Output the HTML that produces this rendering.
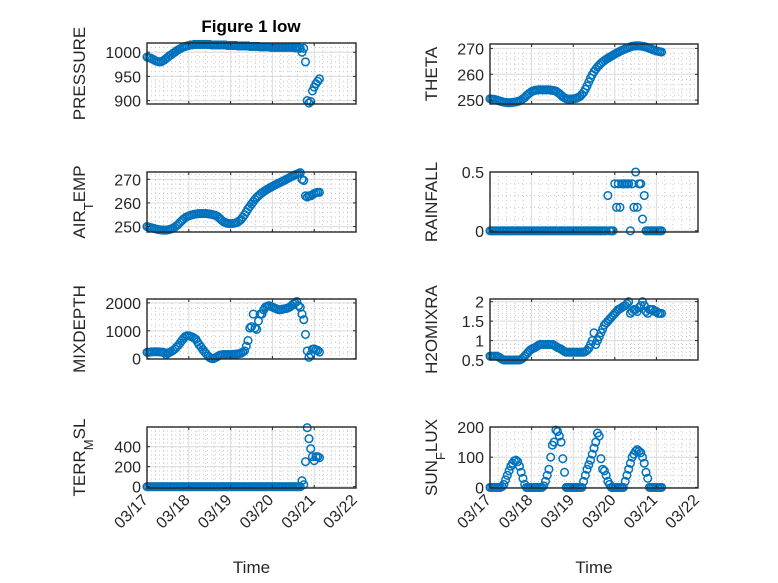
<!DOCTYPE html>
<html><head><meta charset="utf-8"><style>
html,body{margin:0;padding:0;background:#fff;}
svg{display:block;font-family:"Liberation Sans","DejaVu Sans",sans-serif;}
</style></head><body>
<svg id="fig" width="778" height="583" viewBox="0 0 778 583" xmlns="http://www.w3.org/2000/svg">
<rect width="778" height="583" fill="#fff"/>
<text x="251" y="32" text-anchor="middle" font-size="17" font-weight="bold" fill="#000">Figure 1 low</text>
</svg>
<script>
// hourly samples starting 03/17 00:00 (index = hour)
const xTickLabels = ["03/17","03/18","03/19","03/20","03/21","03/22"];
const pressure = [990,989,988,986,984,982,981,980,980,982,
984,987,990,993,995,998,1000,1003,1005,1007,
1009,1011,1012,1013,1014,1015,1015,1016,1016,1016,
1016,1016,1016,1016,1016,1016,1016,1015,1015,1015,
1015,1015,1015,1015,1015,1015,1014,1014,1014,1014,
1014,1014,1013,1013,1013,1013,1013,1013,1013,1012,
1012,1012,1012,1012,1012,1011,1011,1011,1011,1011,
1011,1010,1010,1010,1010,1010,1010,1010,1010,1010,
1010,1010,1010,1010,1010,1009,1009,1009,1008,1000,
1008,980,900,895,898,920,928,935,940,945];
const theta = [250.5,250.4,250.3,250.2,250,249.8,249.6,249.4,249.2,249.1,
249,249,249,249.1,249.2,249.3,249.5,249.7,250,250.5,
251,251.7,252.3,252.8,253.3,253.6,253.8,253.9,254,254,
254,254,254,254,254,253.9,253.8,253.7,253.5,253,
252.5,251.9,251.3,250.9,250.5,250.4,250.4,250.4,250.5,250.6,
250.8,251.1,251.5,252.2,253,254.2,255.5,257,258.5,259.8,
261,261.9,262.8,263.5,264.2,264.8,265.3,265.8,266.2,266.6,
267,267.4,267.8,268.2,268.5,268.9,269.2,269.5,269.8,270.1,
270.3,270.6,270.8,270.9,271,271,271,270.9,270.8,270.7,
270.5,270.3,270,269.8,269.5,269.3,269,268.9,268.7,268.6];
const airTemp = [250,249.8,249.6,249.4,249.2,249,248.8,248.7,248.6,248.5,
248.5,248.5,248.6,248.8,249,249.4,249.8,250.4,251,251.8,
252.5,253.2,253.8,254.2,254.5,254.8,255,255.2,255.3,255.4,
255.5,255.5,255.5,255.5,255.5,255.4,255.3,255.2,255,254.8,
254.5,254,253.3,252.6,252,251.7,251.4,251.3,251.3,251.3,
251.4,251.6,251.8,252.4,253,254,255,256.2,257.5,258.5,
259.5,260.5,261.5,262.3,263,263.7,264.3,264.8,265.3,265.8,
266.2,266.6,267,267.4,267.8,268.2,268.5,268.9,269.2,269.6,
270,270.4,270.8,271.2,271.5,271.9,272.2,272.5,272.8,270,
269.5,263,262.5,263,263,263.5,264,264.3,264.5,264.5];
const rainfall = [0,0,0,0,0,0,0,0,0,0,
0,0,0,0,0,0,0,0,0,0,
0,0,0,0,0,0,0,0,0,0,
0,0,0,0,0,0,0,0,0,0,
0,0,0,0,0,0,0,0,0,0,
0,0,0,0,0,0,0,0,0,0,
0,0,0,0,0,0,0,0,0.3,0,
0,0,0.4,0.2,0.4,0.2,0.4,0.4,0.4,0.4,
0.4,0,0.4,0.2,0.5,0.2,0.4,0.4,0.1,0.3,
0,0,0,0,0,0,0,0,0,0];
const mixDepth = [230,230,240,245,250,250,250,245,240,230,
220,150,200,230,260,300,350,420,480,560,
650,730,800,820,820,800,780,740,700,600,
500,420,330,250,180,100,40,10,0,30,
60,100,130,140,150,150,150,150,150,155,
160,165,170,185,200,240,280,450,650,1100,
1150,1600,1100,1050,1350,1600,1600,1750,1850,1880,
1900,1880,1850,1820,1800,1770,1750,1760,1780,1790,
1800,1820,1850,1900,1960,2000,2050,1900,1840,1600,
1400,870,280,50,150,340,350,320,300,240];
const h2oMixRatio = [0.6,0.6,0.6,0.6,0.6,0.58,0.55,0.52,0.5,0.5,
0.5,0.5,0.5,0.5,0.5,0.5,0.5,0.5,0.52,0.55,
0.6,0.65,0.7,0.75,0.78,0.8,0.82,0.85,0.88,0.9,
0.9,0.9,0.9,0.9,0.9,0.9,0.9,0.88,0.85,0.82,
0.8,0.78,0.75,0.72,0.7,0.7,0.7,0.7,0.7,0.7,
0.7,0.7,0.7,0.7,0.7,0.72,0.75,0.8,0.9,1.0,
1.2,0.9,1.0,1.1,1.2,1.3,1.4,1.45,1.5,1.55,
1.6,1.65,1.7,1.75,1.8,1.82,1.85,1.88,1.9,1.95,
2.0,1.7,1.75,1.8,1.8,1.75,1.85,1.9,2.0,1.9,
1.75,1.7,1.8,1.8,1.8,1.75,1.75,1.7,1.7,1.7];
const terrMsl = [0,0,0,0,0,0,0,0,0,0,
0,0,0,0,0,0,0,0,0,0,
0,0,0,0,0,0,0,0,0,0,
0,0,0,0,0,0,0,0,0,0,
0,0,0,0,0,0,0,0,0,0,
0,0,0,0,0,0,0,0,0,0,
0,0,0,0,0,0,0,0,0,0,
0,0,0,0,0,0,0,0,0,0,
0,0,0,0,0,0,0,0,0,60,
20,250,590,480,380,300,260,300,300,290];
const sunFlux = [0,0,0,0,0,0,0,3,10,25,
40,55,70,80,88,90,85,70,50,30,
10,0,0,0,0,0,0,0,0,0,
0,5,20,40,60,100,140,150,190,185,
170,150,95,50,0,0,0,0,0,0,
0,0,0,0,20,40,60,75,90,110,
130,150,180,170,95,60,55,40,20,10,
0,0,0,0,0,0,0,0,20,40,
60,80,100,110,120,125,120,115,100,80,
50,30,0,0,0,0,0,0,0,0];

const NS="http://www.w3.org/2000/svg";
const svg=document.getElementById('fig');
function mk(tag,attrs,parent){const e=document.createElementNS(NS,tag);for(const k in attrs)e.setAttribute(k,attrs[k]);(parent||svg).appendChild(e);return e;}

const panels = [
 {name:'pressure',x:147,y:43,w:209,h:61,ymin:893,ymax:1019,ticks:[900,950,1000],minor:10,label:['PRESSURE'],lx:79,vals:pressure},
 {name:'theta',x:490,y:44,w:208,h:60,ymin:248.5,ymax:271.7,ticks:[250,260,270],minor:2,label:['THETA'],lx:431,vals:theta},
 {name:'air-temp',x:147,y:172,w:209,h:60,ymin:247.7,ymax:273.1,ticks:[250,260,270],minor:2,label:['AIR','T','EMP'],lx:79,vals:airTemp},
 {name:'rainfall',x:490,y:172,w:208,h:60,ymin:-0.01,ymax:0.5,ticks:[0,0.5],minor:0.1,label:['RAINFALL'],lx:431,vals:rainfall},
 {name:'mixdepth',x:147,y:299,w:209,h:60,ymin:-10,ymax:2140,ticks:[0,1000,2000],minor:200,label:['MIXDEPTH'],lx:79,vals:mixDepth},
 {name:'h2o-mix-ratio',x:490,y:299,w:208,h:61,ymin:0.5,ymax:2.07,ticks:[0.5,1,1.5,2],minor:0.1,label:['H2OMIXRA'],lx:431,vals:h2oMixRatio},
 {name:'terr-msl',x:147,y:427,w:209,h:61,ymin:-13,ymax:597,ticks:[0,200,400],minor:40,label:['TERR','M','SL'],lx:79,vals:terrMsl},
 {name:'sun-flux',x:490,y:427,w:208,h:61,ymin:-2,ymax:200,ticks:[0,100,200],minor:20,label:['SUN','F','LUX'],lx:431,vals:sunFlux}
];

panels.forEach((p,pi)=>{
 const g=mk('g',{});
 
 
 const xs=d=>p.x+d/5*p.w;
 const ys=v=>p.y+p.h-(v-p.ymin)/(p.ymax-p.ymin)*p.h;
 mk('rect',{x:p.x,y:p.y,width:p.w,height:p.h,fill:'#fff'},g);
 for(let d=0.2;d<5;d+=0.2){ if(Math.abs(d-Math.round(d))<0.01) continue;
  mk('line',{x1:xs(d),x2:xs(d),y1:p.y,y2:p.y+p.h,stroke:'#c8c8c8','stroke-width':1,'stroke-dasharray':'1,3'},g);}
 for(let v=Math.ceil(p.ymin/p.minor)*p.minor; v<=p.ymax; v+=p.minor){
  mk('line',{x1:p.x,x2:p.x+p.w,y1:ys(v),y2:ys(v),stroke:'#c8c8c8','stroke-width':1,'stroke-dasharray':'1,3'},g);}
 for(let d=1;d<5;d++) mk('line',{x1:xs(d),x2:xs(d),y1:p.y,y2:p.y+p.h,stroke:'#dcdcdc','stroke-width':1},g);
 p.ticks.forEach(v=>{
  mk('line',{x1:p.x,x2:p.x+p.w,y1:ys(v),y2:ys(v),stroke:'#dcdcdc','stroke-width':1},g);
  const t=mk('text',{x:p.x-6,y:ys(v)+6,'text-anchor':'end','font-size':16,fill:'#262626'},g);
  t.textContent=String(v);
  
  
 });
 p.vals.forEach((v,i)=>{
  const c=mk('circle',{cx:xs(i/24),cy:ys(v),r:3.8,fill:'none',stroke:'#0072BD','stroke-width':1.5},g);
  
  
 });
 mk('rect',{x:p.x,y:p.y,width:p.w,height:p.h,fill:'none',stroke:'#262626','stroke-width':1.4},g);
 for(let d=0;d<=5;d++){
  mk('line',{x1:xs(d),x2:xs(d),y1:p.y+p.h,y2:p.y+p.h-3,stroke:'#262626'},g);
  mk('line',{x1:xs(d),x2:xs(d),y1:p.y,y2:p.y+3,stroke:'#262626'},g);
 }
 p.ticks.forEach(v=>{
  mk('line',{x1:p.x,x2:p.x+3,y1:ys(v),y2:ys(v),stroke:'#262626'},g);
  mk('line',{x1:p.x+p.w,x2:p.x+p.w-3,y1:ys(v),y2:ys(v),stroke:'#262626'},g);
 });
 const cy=p.y+p.h/2;
 const lab=mk('text',{x:p.lx+6,y:cy,'text-anchor':'middle','font-size':17,fill:'#262626',transform:`rotate(-90 ${p.lx+6} ${cy})`},g);
 
 
 if(p.label.length===1){ lab.textContent=p.label[0]; }
 else{
  const a=mk('tspan',{},lab); a.textContent=p.label[0];
  const b=mk('tspan',{'baseline-shift':'sub','font-size':13},lab); b.textContent=p.label[1];
  const c=mk('tspan',{'baseline-shift':'0'},lab); c.textContent=p.label[2];
 }
 if(pi>=6){
  xTickLabels.forEach((s,i)=>{
   const tx=xs(i)+2, ty=p.y+p.h+13;
   const t=mk('text',{x:tx,y:ty,'text-anchor':'end','font-size':16,fill:'#262626',transform:`rotate(-45 ${tx} ${ty})`},g);
   t.textContent=s;
   
   
  });
  const xl=mk('text',{x:p.x+p.w/2,y:573,'text-anchor':'middle','font-size':17,fill:'#262626'},g);
  xl.textContent='Time';
  
  
 }
});
</script>
</body></html>
